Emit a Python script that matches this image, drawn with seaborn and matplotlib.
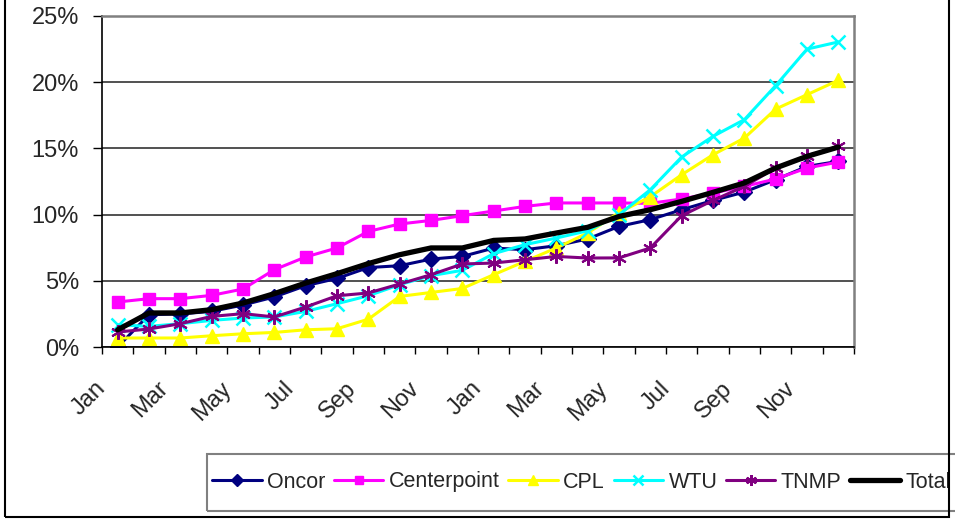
import numpy as np
import pandas as pd
import matplotlib
matplotlib.use('Agg')
import matplotlib.pyplot as plt
import matplotlib.transforms as mtransforms
from matplotlib.ticker import FixedLocator, FuncFormatter
import seaborn as sns

# Data (percent), two years of monthly values
months = ['Jan', 'Feb', 'Mar', 'Apr', 'May', 'Jun',
          'Jul', 'Aug', 'Sep', 'Oct', 'Nov', 'Dec'] * 2

oncor = [0.0, 2.44, 2.5, 2.69, 3.17, 3.78, 4.63, 5.18, 6.0, 6.14, 6.64, 6.84,
         7.47, 7.35, 7.65, 8.16, 9.11, 9.62, 10.37, 11.07, 11.7, 12.64, 13.64, 14.02]
centerpoint = [3.4, 3.65, 3.65, 3.9, 4.38, 5.84, 6.8, 7.48, 8.73, 9.29, 9.56, 9.92,
               10.27, 10.62, 10.88, 10.88, 10.88, 10.85, 11.18, 11.63, 12.13, 12.69, 13.52, 13.97]
cpl = [0.68, 0.68, 0.68, 0.85, 1.0, 1.1, 1.3, 1.38, 2.1, 3.82, 4.12, 4.42,
       5.46, 6.47, 7.48, 8.61, 10.15, 11.35, 13.01, 14.52, 15.78, 17.97, 19.06, 20.14]
wtu = [1.68, 1.56, 1.76, 2.01, 2.19, 2.27, 2.69, 3.27, 3.87, 4.71, 5.39, 5.79,
       7.05, 7.73, 8.23, 8.78, 9.99, 11.88, 14.35, 15.91, 17.17, 19.74, 22.5, 23.04]
tnmp = [1.13, 1.36, 1.76, 2.31, 2.52, 2.27, 3.02, 3.87, 4.08, 4.76, 5.46, 6.27,
        6.34, 6.59, 6.84, 6.72, 6.73, 7.48, 9.92, 11.07, 12.13, 13.52, 14.4, 15.15]
total = [1.3, 2.57, 2.57, 2.82, 3.32, 4.03, 4.83, 5.54, 6.3, 6.97, 7.48, 7.48,
         8.05, 8.16, 8.61, 9.04, 9.86, 10.37, 11.0, 11.68, 12.39, 13.52, 14.4, 15.1]

series = {'Oncor': oncor, 'Centerpoint': centerpoint, 'CPL': cpl,
          'WTU': wtu, 'TNMP': tnmp, 'Total': total}

# long-form table for seaborn
pos = np.arange(len(months))
df = pd.concat([pd.DataFrame({'pos': pos, 'month': months, 'value': v, 'series': k})
                for k, v in series.items()], ignore_index=True)

styles = {
    'Oncor':       dict(color='#000080', marker='D', ms=8, lw=2.2, mew=1),
    'Centerpoint': dict(color='#FF00FF', marker='s', ms=8, lw=2.2, mew=1),
    'CPL':         dict(color='#FFFF00', marker='^', ms=9.5, lw=2.2, mew=1),
    'WTU':         dict(color='#00FFFF', marker='x', ms=9.5, lw=2.2, mew=1.8),
    'TNMP':        dict(color='#800080', marker=(6, 2, 0), ms=10.5, lw=2.2, mew=1.5),
    'Total':       dict(color='black', marker=None, ms=0, lw=3.8, mew=0),
}

sns.set_style('white')
plt.rcParams['font.family'] = ['Liberation Sans', 'DejaVu Sans']

fig = plt.figure(figsize=(9.55, 5.19), dpi=100)
W, H = 955, 519
ax = fig.add_axes([102 / W, 1 - 347 / H, (854 - 102) / W, (347 - 16) / H])

for name in series:
    st = styles[name]
    sns.lineplot(data=df[df['series'] == name], x='pos', y='value', ax=ax,
                 color=st['color'], marker=st['marker'], markersize=st['ms'],
                 linewidth=st['lw'], markeredgewidth=st['mew'],
                 markeredgecolor=st['color'], label=name, legend=False)

ax.set_xlim(-0.5, len(months) - 0.5)
ax.set_ylim(0, 25)
ax.set_xlabel('')
ax.set_ylabel('')

# y axis
ax.set_yticks(np.arange(0, 26, 5))
ax.yaxis.set_major_formatter(FuncFormatter(lambda v, p: f'{v:.0f}%'))
ax.tick_params(axis='y', which='major', direction='out', length=6.5, width=1,
               color='black', labelsize=17, pad=10, left=True)
ax.grid(axis='y', color='#222222', lw=1.1)
ax.grid(axis='x', visible=False)

# x axis: tick marks between categories, labels every other month
ax.xaxis.set_minor_locator(FixedLocator(np.arange(-0.5, len(months), 1)))
ax.set_xticks(pos[::2])
ax.set_xticklabels(months[::2], rotation=45, ha='right', va='top',
                   rotation_mode='anchor', fontsize=17)
ax.tick_params(axis='x', which='major', length=0, pad=22)
ax.tick_params(axis='x', which='minor', direction='out', length=5, width=1,
               color='black', bottom=True)
offset = mtransforms.ScaledTranslation(-23 / 100, 0, fig.dpi_scale_trans)
for lab in ax.get_xticklabels():
    lab.set_transform(lab.get_transform() + offset)

for side in ['left', 'bottom']:
    ax.spines[side].set_color('black')
    ax.spines[side].set_linewidth(1.2)
for side in ['top', 'right']:
    ax.spines[side].set_color('#808080')
    ax.spines[side].set_linewidth(1.8)

# legend box across the bottom (box drawn separately so it can be tall but tight)
fig.add_artist(plt.Rectangle((207 / W, 1 - 511 / H), (960 - 207) / W, 57 / H,
                             transform=fig.transFigure, fill=False,
                             ec='#808080', lw=1.5, zorder=5))
handles, labels = ax.get_legend_handles_labels()
leg = fig.legend(handles, labels, loc='center left', ncol=6,
                 bbox_to_anchor=(212 / W, 1 - 482 / H), fontsize=15.5,
                 frameon=False, handlelength=2.3,
                 handletextpad=0.25, columnspacing=0.4, borderpad=0,
                 borderaxespad=0, markerscale=0.75)

# outer chart frame
fig.add_artist(plt.Rectangle((5 / W, 2 / H), 944 / W, 1.2, transform=fig.transFigure,
                             fill=False, ec='black', lw=1.5, zorder=10))

fig.savefig('out.png', dpi=100)
